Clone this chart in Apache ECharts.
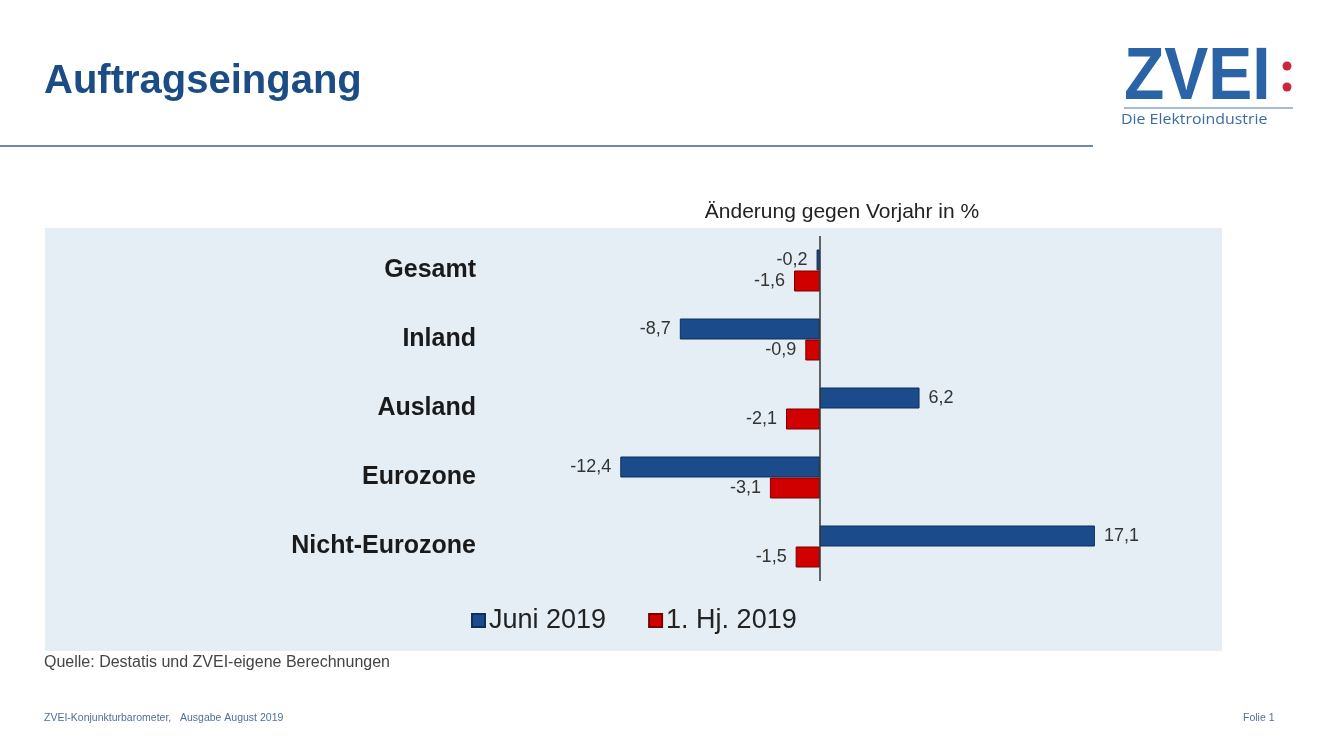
<!DOCTYPE html>
<html>
<head>
<meta charset="utf-8">
<title>Auftragseingang</title>
<script src="https://cdn.jsdelivr.net/npm/echarts@6/dist/echarts.min.js"></script>
<style>
  html, body { margin: 0; padding: 0; background: #fff; }
  #chart { width: 1320px; height: 742px; }
</style>
</head>
<body>
<div id="chart"></div>
<script>
// Daten
const categories = ['Gesamt', 'Inland', 'Ausland', 'Eurozone', 'Nicht-Eurozone'];
const juni2019 = [-0.2, -8.7, 6.2, -12.4, 17.1];
const hj2019 = [-1.6, -0.9, -2.1, -3.1, -1.5];
const seriesNames = ['Juni 2019', '1. Hj. 2019'];

const FONT = '"Liberation Sans", Arial, sans-serif';
const blue = '#1b4b8b';
const red = '#d00000';

// Label links bei negativen Werten, rechts bei positiven
const toItems = (arr) => arr.map(v => ({
  value: v,
  label: { position: v < 0 ? 'left' : 'right' }
}));
const fmt = (p) => p.value.toFixed(1).replace('.', ',');

const chart = echarts.init(document.getElementById('chart'), null, { renderer: 'canvas' });

const option = {
  backgroundColor: '#fff',
  animation: false,
  graphic: [
    // hellblaue Fläche hinter dem Diagramm
    { type: 'rect', z: -10, shape: { x: 45, y: 228, width: 1177, height: 423 }, style: { fill: '#e5eef5' } },
    // Titel
    { type: 'text', left: 44, top: 62, style: { text: 'Auftragseingang', font: 'bold 40px ' + FONT, fill: '#1b4c85' } },
    { type: 'line', shape: { x1: 0, y1: 146, x2: 1093, y2: 146 }, style: { stroke: '#7189a3', lineWidth: 2 } },
    // Logo
    { type: 'text', x: 1124, y: 42, scaleY: 1.12, style: { text: 'ZVEI', font: 'bold 66px ' + FONT, fill: '#2a63a6' } },
    { type: 'circle', shape: { cx: 1287, cy: 66, r: 4.5 }, style: { fill: '#c8283a' } },
    { type: 'circle', shape: { cx: 1287, cy: 87, r: 4.5 }, style: { fill: '#c8283a' } },
    { type: 'line', shape: { x1: 1124, y1: 108, x2: 1293, y2: 108 }, style: { stroke: '#8aa3c0', lineWidth: 1.5 } },
    { type: 'text', x: 1121, y: 112, scaleX: 1.06, style: { text: 'Die Elektroindustrie', font: '15px "Open Sans", ' + FONT, fill: '#3a6ba3' } },
    // Untertitel
    { type: 'text', x: 842, y: 212, style: { text: 'Änderung gegen Vorjahr in %', font: '21px ' + FONT, fill: '#222', align: 'center', verticalAlign: 'middle' } },
    // Quelle + Fußzeile
    { type: 'text', x: 44, y: 655, style: { text: 'Quelle: Destatis und ZVEI-eigene Berechnungen', font: '16px ' + FONT, fill: '#444' } },
    { type: 'text', x: 44, y: 713, style: { text: 'ZVEI-Konjunkturbarometer,   Ausgabe August 2019', font: '10.5px ' + FONT, fill: '#4f6f99' } },
    { type: 'text', x: 1243, y: 713, style: { text: 'Folie 1', font: '10.5px ' + FONT, fill: '#4f6f99' } }
  ],
  legend: {
    data: seriesNames,
    left: 466,
    top: 602,
    itemWidth: 13,
    itemHeight: 13,
    itemGap: 42,
    icon: 'rect',
    textStyle: { fontFamily: FONT, fontSize: 27, color: '#222', padding: [0, 0, 0, -1] }
  },
  grid: { left: 498, right: 98, top: 236, bottom: 161 },
  xAxis: {
    type: 'value',
    min: -20,
    max: 25,
    show: false
  },
  yAxis: {
    type: 'category',
    inverse: true,
    data: categories,
    axisLine: { show: false },
    axisTick: { show: false },
    axisLabel: { fontFamily: FONT, fontSize: 25, fontWeight: 'bold', color: '#1a1a1a', margin: 22 }
  },
  series: [
    {
      name: seriesNames[0],
      type: 'bar',
      data: toItems(juni2019),
      barWidth: 21,
      barGap: '0%',
      itemStyle: { color: blue, borderColor: '#0e2f5c', borderWidth: 1 },
      label: { show: true, formatter: fmt, fontFamily: FONT, fontSize: 18, color: '#333', distance: 9 },
      markLine: {
        silent: true,
        symbol: 'none',
        label: { show: false },
        lineStyle: { color: '#333', width: 1.5, type: 'solid' },
        data: [{ xAxis: 0 }]
      }
    },
    {
      name: seriesNames[1],
      type: 'bar',
      data: toItems(hj2019),
      barWidth: 21,
      barGap: '0%',
      itemStyle: { color: red, borderColor: '#7a0000', borderWidth: 1 },
      label: { show: true, formatter: fmt, fontFamily: FONT, fontSize: 18, color: '#333', distance: 9 }
    }
  ]
};

chart.setOption(option);
</script>
</body>
</html>
